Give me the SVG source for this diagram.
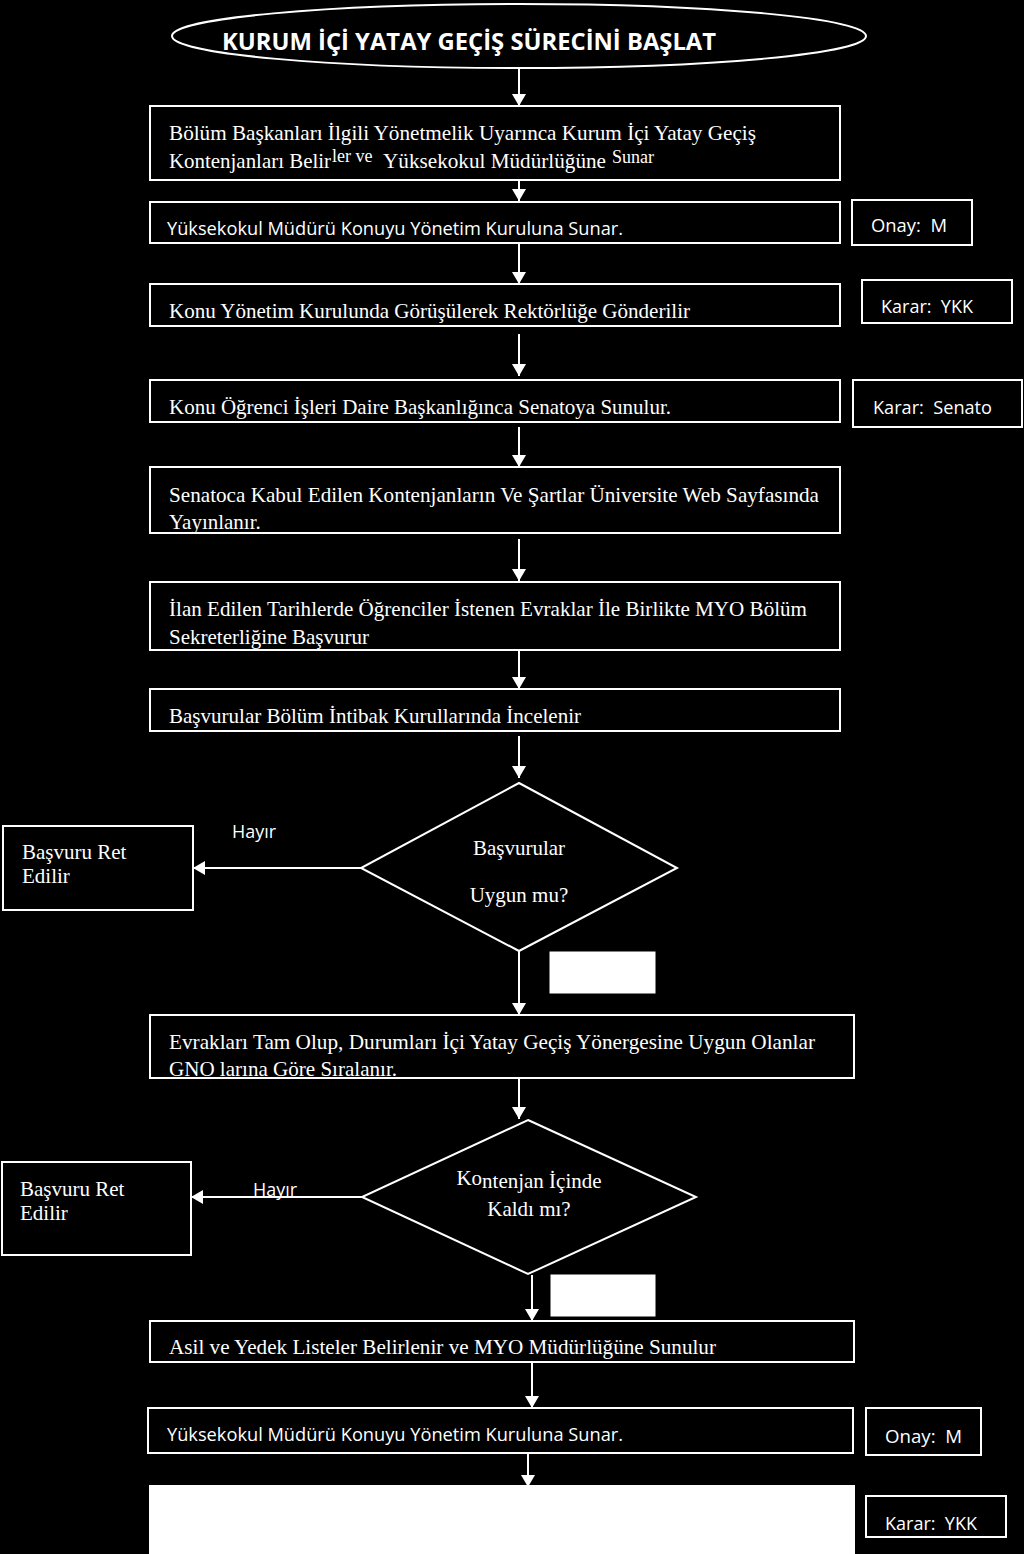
<svg xmlns="http://www.w3.org/2000/svg" width="1024" height="1554" viewBox="0 0 1024 1554">
<style>
.bx{fill:#000;stroke:#fff;stroke-width:2}
.wf{fill:#fff;stroke:#fff;stroke-width:1}
.ln{stroke:#fff;stroke-width:2;fill:none}
.sr{font-family:"Liberation Serif","Times New Roman",serif;font-size:21px;fill:#fff}
.ss{font-family:"Open Sans","Liberation Sans",sans-serif;font-size:18.5px;fill:#fff;white-space:pre}
.tt{font-family:"Open Sans","Liberation Sans",sans-serif;font-size:23px;font-weight:bold;fill:#fff}
</style>
<defs>
<marker id="ah" markerWidth="12" markerHeight="14" refX="12" refY="7" orient="auto" markerUnits="userSpaceOnUse">
<path d="M0,0 L12,7 L0,14 Z" fill="#fff"/>
</marker>
</defs>
<rect x="0" y="0" width="1024" height="1554" fill="#000"/>

<g id="connectors">
<line class="ln" x1="519" y1="66" x2="519" y2="106" marker-end="url(#ah)"/>
<line class="ln" x1="519" y1="181" x2="519" y2="201" marker-end="url(#ah)"/>
<line class="ln" x1="519" y1="244" x2="519" y2="284" marker-end="url(#ah)"/>
<line class="ln" x1="519" y1="334" x2="519" y2="376" marker-end="url(#ah)"/>
<line class="ln" x1="519" y1="427" x2="519" y2="467" marker-end="url(#ah)"/>
<line class="ln" x1="519" y1="539" x2="519" y2="581" marker-end="url(#ah)"/>
<line class="ln" x1="519" y1="648" x2="519" y2="689" marker-end="url(#ah)"/>
<line class="ln" x1="519" y1="736" x2="519" y2="778" marker-end="url(#ah)"/>
<line class="ln" x1="361" y1="868" x2="193" y2="868" marker-end="url(#ah)"/>
<line class="ln" x1="519" y1="951" x2="519" y2="1015" marker-end="url(#ah)"/>
<line class="ln" x1="519" y1="1079" x2="519" y2="1119" marker-end="url(#ah)"/>
<line class="ln" x1="362" y1="1197" x2="191" y2="1197" marker-end="url(#ah)"/>
<line class="ln" x1="532" y1="1275" x2="532" y2="1321" marker-end="url(#ah)"/>
<line class="ln" x1="532" y1="1363" x2="532" y2="1408" marker-end="url(#ah)"/>
<line class="ln" x1="528" y1="1454" x2="528" y2="1487" marker-end="url(#ah)"/>
</g>

<g id="start">
<ellipse class="bx" cx="519" cy="36" rx="347" ry="32"/>
<text class="tt" x="222" y="50" textLength="494" lengthAdjust="spacingAndGlyphs">KURUM İÇİ YATAY GEÇİŞ SÜRECİNİ BAŞLAT</text>
</g>

<g id="n1">
<rect class="bx" x="150" y="106" width="690" height="74"/>
<text class="sr" x="169" y="140" textLength="587" lengthAdjust="spacingAndGlyphs">Bölüm Başkanları İlgili Yönetmelik Uyarınca Kurum İçi Yatay Geçiş</text>
<text class="sr" y="168"><tspan x="169" textLength="162" lengthAdjust="spacingAndGlyphs">Kontenjanları Belir</tspan><tspan x="332" dy="-6" font-size="18">ler ve</tspan><tspan x="383" dy="6" textLength="223" lengthAdjust="spacingAndGlyphs">Yüksekokul Müdürlüğüne</tspan><tspan x="612" dy="-5" font-size="18">Sunar</tspan></text>
</g>

<g id="n2">
<rect class="bx" x="150" y="202" width="690" height="41"/>
<text class="ss" x="167" y="235" textLength="456" lengthAdjust="spacingAndGlyphs">Yüksekokul Müdürü Konuyu Yönetim Kuruluna Sunar.</text>
</g>
<g id="s1">
<rect class="bx" x="852" y="200" width="120" height="45"/>
<text class="ss" x="871" y="232" textLength="76" lengthAdjust="spacingAndGlyphs">Onay:  M</text>
</g>

<g id="n3">
<rect class="bx" x="150" y="284" width="690" height="42"/>
<text class="sr" x="169" y="318" textLength="521" lengthAdjust="spacingAndGlyphs">Konu Yönetim Kurulunda Görüşülerek Rektörlüğe Gönderilir</text>
</g>
<g id="s2">
<rect class="bx" x="862" y="280" width="150" height="43"/>
<text class="ss" x="881" y="313" textLength="92" lengthAdjust="spacingAndGlyphs">Karar:  YKK</text>
</g>

<g id="n4">
<rect class="bx" x="150" y="380" width="690" height="42"/>
<text class="sr" x="169" y="414" textLength="502" lengthAdjust="spacingAndGlyphs">Konu Öğrenci İşleri Daire Başkanlığınca Senatoya Sunulur.</text>
</g>
<g id="s3">
<rect class="bx" x="853" y="380" width="169" height="47"/>
<text class="ss" x="873" y="414" textLength="119" lengthAdjust="spacingAndGlyphs">Karar:  Senato</text>
</g>

<g id="n5">
<rect class="bx" x="150" y="467" width="690" height="66"/>
<text class="sr" x="169" y="502" textLength="650" lengthAdjust="spacingAndGlyphs">Senatoca Kabul Edilen Kontenjanların Ve Şartlar Üniversite Web Sayfasında</text>
<text class="sr" x="169" y="529">Yayınlanır.</text>
</g>

<g id="n6">
<rect class="bx" x="150" y="582" width="690" height="68"/>
<text class="sr" x="169" y="616" textLength="638" lengthAdjust="spacingAndGlyphs">İlan Edilen Tarihlerde Öğrenciler İstenen Evraklar İle Birlikte MYO Bölüm</text>
<text class="sr" x="169" y="644">Sekreterliğine Başvurur</text>
</g>

<g id="n7">
<rect class="bx" x="150" y="689" width="690" height="42"/>
<text class="sr" x="169" y="723" textLength="412" lengthAdjust="spacingAndGlyphs">Başvurular Bölüm İntibak Kurullarında İncelenir</text>
</g>

<g id="d1">
<polygon class="bx" points="519,783 677,868 519,951 361,868"/>
<text class="sr" x="519" y="855" text-anchor="middle">Başvurular</text>
<text class="sr" x="519" y="902" text-anchor="middle">Uygun mu?</text>
</g>
<text class="ss" x="232" y="838" textLength="44" lengthAdjust="spacingAndGlyphs">Hayır</text>
<g id="r1">
<rect class="bx" x="3" y="826" width="190" height="84"/>
<text class="sr" x="22" y="859">Başvuru Ret</text>
<text class="sr" x="22" y="883">Edilir</text>
</g>
<rect class="wf" x="550" y="952" width="105" height="41"/>

<g id="n8">
<rect class="bx" x="150" y="1015" width="704" height="63"/>
<text class="sr" x="169" y="1049" textLength="646" lengthAdjust="spacingAndGlyphs">Evrakları Tam Olup, Durumları İçi Yatay Geçiş Yönergesine Uygun Olanlar</text>
<text class="sr" x="169" y="1076" textLength="228" lengthAdjust="spacingAndGlyphs">GNO larına Göre Sıralanır.</text>
</g>

<g id="d2">
<polygon class="bx" points="528,1120 696,1197 528,1274 362,1197"/>
<text class="sr" x="529" y="1188" text-anchor="middle"><tspan dy="-3">Ko</tspan><tspan dy="3">ntenjan İçinde</tspan></text>
<text class="sr" x="529" y="1216" text-anchor="middle">Kaldı mı?</text>
</g>
<text class="ss" x="253" y="1196" textLength="44" lengthAdjust="spacingAndGlyphs">Hayır</text>
<g id="r2">
<rect class="bx" x="2" y="1162" width="189" height="93"/>
<text class="sr" x="20" y="1196">Başvuru Ret</text>
<text class="sr" x="20" y="1220">Edilir</text>
</g>
<rect class="wf" x="551" y="1275" width="104" height="41"/>

<g id="n9">
<rect class="bx" x="150" y="1321" width="704" height="41"/>
<text class="sr" x="169" y="1354" textLength="547" lengthAdjust="spacingAndGlyphs">Asil ve Yedek Listeler Belirlenir ve MYO Müdürlüğüne Sunulur</text>
</g>

<g id="n10">
<rect class="bx" x="148" y="1408" width="705" height="45"/>
<text class="ss" x="167" y="1441" textLength="456" lengthAdjust="spacingAndGlyphs">Yüksekokul Müdürü Konuyu Yönetim Kuruluna Sunar.</text>
</g>
<g id="s4">
<rect class="bx" x="866" y="1408" width="115" height="47"/>
<text class="ss" x="885" y="1443" textLength="77" lengthAdjust="spacingAndGlyphs">Onay:  M</text>
</g>

<g id="n11">
<rect x="150" y="1486" width="704" height="70" fill="#fff" stroke="#fff" stroke-width="2"/>
</g>
<g id="s5">
<rect class="bx" x="866" y="1496" width="140" height="41"/>
<text class="ss" x="885" y="1530" textLength="92" lengthAdjust="spacingAndGlyphs">Karar:  YKK</text>
</g>
</svg>
